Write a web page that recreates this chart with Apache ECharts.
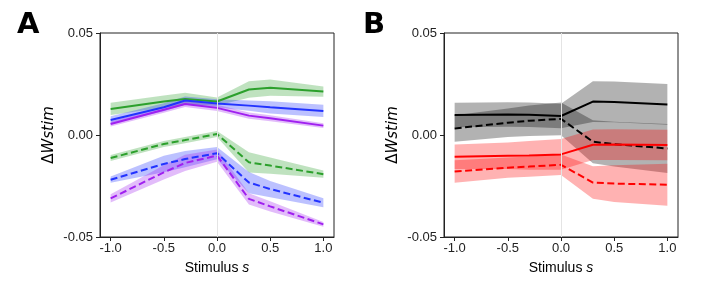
<!DOCTYPE html>
<html><head><meta charset="utf-8">
<script src="https://cdn.jsdelivr.net/npm/echarts@6/dist/echarts.min.js"></script>
<style>html,body{margin:0;padding:0;background:#fff}#c{width:713px;height:288px}</style>
</head><body><div id="c"></div>
<script>
const stimulus = [-1.0, -0.5, -0.3, 0.0, 0.3, 0.5, 1.0];
const xTicks = [-1.0, -0.5, 0.0, 0.5, 1.0];
const yTicks = [-0.05, 0.0, 0.05];

// Panel A
const greenSolid   = [0.0128, 0.0164, 0.0177, 0.0164, 0.0223, 0.0232, 0.0213];
const greenSolidErr= [0.003, 0.003, 0.003, 0.002, 0.004, 0.004, 0.0025];
const blueSolid    = [0.0074, 0.0136, 0.0169, 0.0155, 0.0144, 0.0136, 0.0118];
const blueSolidErr = [0.0018, 0.002, 0.002, 0.002, 0.0025, 0.003, 0.003];
const purpleSolid  = [0.0054, 0.0124, 0.0152, 0.0133, 0.0095, 0.0082, 0.0046];
const purpleSolidErr=[0.0012, 0.0015, 0.0015, 0.0015, 0.0015, 0.0015, 0.0012];
const greenDashed  = [-0.0113, -0.0044, -0.0025, 0.0005, -0.0134, -0.0150, -0.0192];
const greenDashedErr=[0.0015, 0.0015, 0.0015, 0.0015, 0.005, 0.004, 0.0018];
const blueDashed   = [-0.0219, -0.0142, -0.0118, -0.0089, -0.0233, -0.0265, -0.0332];
const blueDashedErr= [0.0015, 0.004, 0.004, 0.003, 0.0052, 0.004, 0.0022];
const purpleDashed = [-0.0311, -0.0183, -0.0137, -0.0101, -0.0313, -0.0350, -0.0438];
const purpleDashedErr=[0.002, 0.0035, 0.004, 0.003, 0.0028, 0.0025, 0.0012];

// Panel B
const blackSolid   = [0.0098, 0.0100, 0.0099, 0.0093, 0.0164, 0.0162, 0.0150];
const blackSolidErr= [0.006, 0.006, 0.006, 0.006, 0.010, 0.010, 0.010];
const blackDashed  = [0.0032, 0.0060, 0.0070, 0.0079, -0.0033, -0.0045, -0.0066];
const blackDashedErr=[0.0065, 0.007, 0.0075, 0.008, 0.0105, 0.011, 0.012];
const redSolid     = [-0.0107, -0.0102, -0.0100, -0.0095, -0.0048, -0.0047, -0.0049];
const redSolidErr  = [0.006, 0.0065, 0.007, 0.0075, 0.0075, 0.0075, 0.0075];
const redDashed    = [-0.0179, -0.0160, -0.0155, -0.0146, -0.0233, -0.0238, -0.0244];
const redDashedErr = [0.0055, 0.005, 0.005, 0.005, 0.008, 0.009, 0.0103];

const GREEN = '#2ca02c', BLUE = '#2233ff', PURPLE = '#a020f0', BLACK = '#000000', RED = '#ff0000';
function rgba(hex, a){const n=parseInt(hex.slice(1),16);return `rgba(${n>>16&255},${n>>8&255},${n&255},${a})`;}

function band(idx, center, err, color){
  return {
    type:'custom', xAxisIndex:idx, yAxisIndex:idx, silent:true, z:1,
    data: stimulus.map((x,i)=>[x, center[i]-err[i], center[i]+err[i]]),
    encode:{x:0, y:[1,2]},
    renderItem:(params, api)=>{
      if (params.dataIndex !== 0) return null;
      const pts=[];
      for (let i=0;i<stimulus.length;i++) pts.push(api.coord([stimulus[i], center[i]+err[i]]));
      for (let i=stimulus.length-1;i>=0;i--) pts.push(api.coord([stimulus[i], center[i]-err[i]]));
      return {type:'polygon', shape:{points:pts}, style:{fill:rgba(color,0.3)}};
    }
  };
}
function line(idx, vals, color, dashed){
  return {
    type:'line', xAxisIndex:idx, yAxisIndex:idx, z:3, silent:true,
    data: stimulus.map((x,i)=>[x, vals[i]]),
    symbol:'none', animation:false,
    lineStyle:{color:color, width:2, type: dashed ? [7,3.5] : 'solid'}
  };
}
function zeroLine(idx){
  return {type:'line', xAxisIndex:idx, yAxisIndex:idx, data:[], silent:true, z:0,
    markLine:{silent:true, symbol:'none', animation:false, label:{show:false},
      lineStyle:{color:'#e4e4e4', width:1, type:'solid'}, data:[{xAxis:0}]}};
}

const tickFont = {fontFamily:'Liberation Sans', fontSize:13, color:'#222'};
function xAxis(idx){
  return {type:'value', gridIndex:idx, min:-1.1, max:1.1,
    name:'{n|Stimulus }{i|s}', nameLocation:'middle', nameGap:24,
    nameTextStyle:{rich:{n:{fontFamily:'Liberation Sans', fontSize:14, color:'#000'},
                         i:{fontFamily:'Liberation Sans', fontSize:14, fontStyle:'italic', color:'#000'}}},
    axisLine:{show:true, onZero:false, lineStyle:{color:'#222', width:1}},
    axisTick:{show:true, length:4, customValues:xTicks, lineStyle:{color:'#222'}},
    axisLabel:Object.assign({customValues:xTicks, margin:5, formatter:v=>v.toFixed(1)}, tickFont),
    splitLine:{show:false}};
}
function yAxis(idx){
  return {type:'value', gridIndex:idx, min:-0.05, max:0.05,
    name:'{d|Δ}{i|Wstim}', nameLocation:'middle', nameGap:43, nameRotate:90, nameMoveOverlap:false,
    nameTextStyle:{rich:{d:{fontFamily:'DejaVu Sans', fontSize:15, color:'#000'},
                         i:{fontFamily:'DejaVu Sans', fontSize:15, fontStyle:'italic', color:'#000'}}},
    axisLine:{show:true, onZero:false, lineStyle:{color:'#222', width:1}},
    axisTick:{show:true, length:4, customValues:yTicks, lineStyle:{color:'#222'}},
    axisLabel:Object.assign({customValues:yTicks, margin:7, formatter:v=>v.toFixed(2)}, tickFont),
    splitLine:{show:false}};
}

const chart = echarts.init(document.getElementById('c'), null, {renderer:'canvas'});
chart.setOption({
  animation:false,
  backgroundColor:'#fff',
  grid:[
    {left:100, top:33, width:234, height:204, show:true, borderColor:'#222', borderWidth:1, backgroundColor:'transparent'},
    {left:444, top:33, width:234, height:204, show:true, borderColor:'#222', borderWidth:1, backgroundColor:'transparent'}
  ],
  xAxis:[xAxis(0), xAxis(1)],
  yAxis:[yAxis(0), yAxis(1)],
  graphic:[
    {type:'text', left:17, top:11, style:{text:'A', fontFamily:'DejaVu Sans', fontWeight:'bold', fontSize:29, fill:'#000'}},
    {type:'text', left:363, top:11, style:{text:'B', fontFamily:'DejaVu Sans', fontWeight:'bold', fontSize:29, fill:'#000'}}
  ],
  series:[
    zeroLine(0), zeroLine(1),
    band(0, greenSolid, greenSolidErr, GREEN),
    band(0, blueSolid, blueSolidErr, BLUE),
    band(0, purpleSolid, purpleSolidErr, PURPLE),
    band(0, greenDashed, greenDashedErr, GREEN),
    band(0, blueDashed, blueDashedErr, BLUE),
    band(0, purpleDashed, purpleDashedErr, PURPLE),
    line(0, greenSolid, GREEN, false),
    line(0, blueSolid, BLUE, false),
    line(0, purpleSolid, PURPLE, false),
    line(0, greenDashed, GREEN, true),
    line(0, blueDashed, BLUE, true),
    line(0, purpleDashed, PURPLE, true),
    band(1, blackSolid, blackSolidErr, BLACK),
    band(1, blackDashed, blackDashedErr, BLACK),
    band(1, redSolid, redSolidErr, RED),
    band(1, redDashed, redDashedErr, RED),
    line(1, blackSolid, BLACK, false),
    line(1, blackDashed, BLACK, true),
    line(1, redSolid, RED, false),
    line(1, redDashed, RED, true)
  ]
});
</script></body></html>
